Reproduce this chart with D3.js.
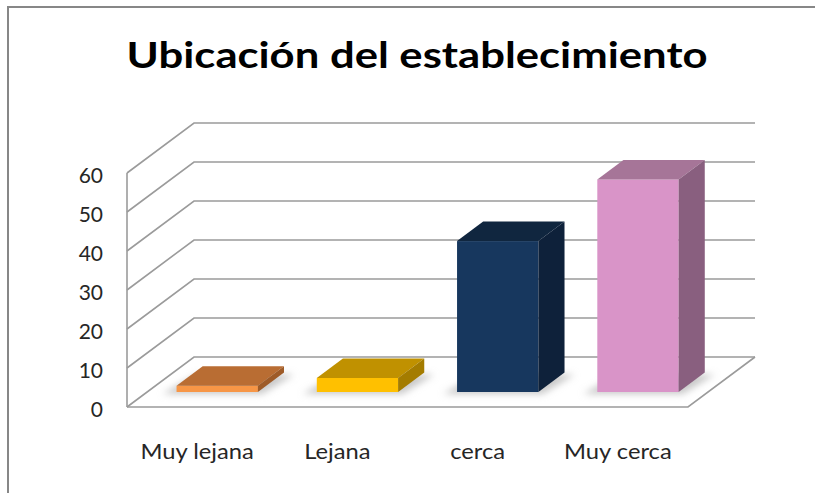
<!DOCTYPE html>
<html><head><meta charset="utf-8">
<script src="https://cdn.jsdelivr.net/npm/d3@7"></script>
<style>body{margin:0;background:#fff}svg{display:block}</style>
</head><body>
<script>
const categories = ["Muy lejana", "Lejana", "cerca", "Muy cerca"];
const values = [1.6, 3.6, 38.7, 54.5];
const yTicks = [0, 10, 20, 30, 40, 50, 60];
const title = "Ubicación del establecimiento";
const frontColors = ["#F79646", "#FFC000", "#17375E", "#D994C8"];
const topColors = ["#B96D33", "#C09100", "#10263F", "#A67598"];
const sideColors = ["#9E5B28", "#A47C00", "#0E213A", "#895F7F"];

const W = 815, H = 493;
const svg = d3.select("body").append("svg").attr("width", W).attr("height", H);
const defs = svg.append("defs");
defs.append("filter").attr("id", "blur").attr("x", "-50%").attr("y", "-50%").attr("width", "200%").attr("height", "200%")
  .append("feGaussianBlur").attr("stdDeviation", 3.5);

// frame
svg.append("line").attr("x1", 7).attr("x2", W).attr("y1", 7).attr("y2", 7).attr("stroke", "#878787").attr("stroke-width", 2);
svg.append("line").attr("x1", 8).attr("x2", 8).attr("y1", 6).attr("y2", H).attr("stroke", "#878787").attr("stroke-width", 2);

// title
svg.append("text").attr("x", 417).attr("y", 68).attr("text-anchor", "middle")
  .attr("font-family", "Lato, 'Open Sans', sans-serif").attr("font-weight", "bold").attr("font-size", 37)
  .attr("textLength", 581).attr("lengthAdjust", "spacingAndGlyphs").attr("fill", "#000").text(title);

// 3D geometry
const x0 = 127, x1 = 688;
const depth = [67, -50];
const y = d3.scaleLinear().domain([0, 60]).range([407, 173]);
const x = d3.scaleBand().domain(categories).range([x0, x1]).paddingInner(0.42).paddingOuter(0.21);
const off = f => [depth[0] * f, depth[1] * f];
const gridColor = "#9b9b9b";

const grid = svg.append("g").attr("fill", "none").attr("stroke", gridColor).attr("stroke-width", 1.6);
grid.append("line").attr("x1", x0).attr("x2", x0).attr("y1", y(60)).attr("y2", y(0));
yTicks.forEach(t => {
  const [dx, dy] = off(1);
  grid.append("path").attr("d", d3.line()([[x0, y(t)], [x0 + dx, y(t) + dy], [x1 + dx, y(t) + dy]]));
});
{
  const [dx, dy] = off(1);
  grid.append("path").attr("d", d3.line()([[x0, y(0)], [x1, y(0)], [x1 + dx, y(0) + dy]]));
}

// y labels
svg.append("g").selectAll("text").data(yTicks).join("text")
  .attr("x", 103).attr("y", d => y(d) + 3).attr("dy", "0.35em").attr("text-anchor", "end")
  .attr("font-family", "Lato, sans-serif").attr("font-size", 21).attr("fill", "#262626").text(d => d);

// category labels (horizontally stretched like the reference)
svg.append("g").selectAll("text").data(categories).join("text")
  .attr("transform", d => `translate(${x(d) + x.bandwidth() / 2},459) scale(1.13,1)`)
  .attr("text-anchor", "middle")
  .attr("font-family", "Lato, sans-serif").attr("font-size", 21).attr("fill", "#262626").text(d => d);

// bars
const f0 = 0.3, f1 = 0.69;
const bars = categories.map((c, i) => {
  const [ax, ay] = off(f0), [bx, by] = off(f1);
  const xl = x(c) + ax, xr = x(c) + x.bandwidth() + ax;
  const yb = y(0) + ay, yt = y(values[i]) + ay;
  return {i, xl, xr, yb, yt, ddx: bx - ax, ddy: by - ay};
});
const line = d3.line();
svg.append("g").attr("filter", "url(#blur)").selectAll("path").data(bars).join("path")
  .attr("d", b => line([[b.xl - 14, b.yb + 2], [b.xr + 4, b.yb + 2], [b.xr + b.ddx + 10, b.yb + b.ddy + 2], [b.xl + b.ddx - 6, b.yb + b.ddy + 2]]) + "Z")
  .attr("fill", "#b5b5b5").attr("opacity", 0.75);

const g = svg.append("g");
bars.forEach(b => {
  g.append("rect").attr("x", b.xl).attr("y", b.yt).attr("width", b.xr - b.xl).attr("height", b.yb - b.yt).attr("fill", frontColors[b.i]);
  g.append("path").attr("d", line([[b.xl, b.yt], [b.xr, b.yt], [b.xr + b.ddx, b.yt + b.ddy], [b.xl + b.ddx, b.yt + b.ddy]]) + "Z").attr("fill", topColors[b.i]);
  g.append("path").attr("d", line([[b.xr, b.yt], [b.xr + b.ddx, b.yt + b.ddy], [b.xr + b.ddx, b.yb + b.ddy], [b.xr, b.yb]]) + "Z").attr("fill", sideColors[b.i]);
});
</script>
</body></html>
